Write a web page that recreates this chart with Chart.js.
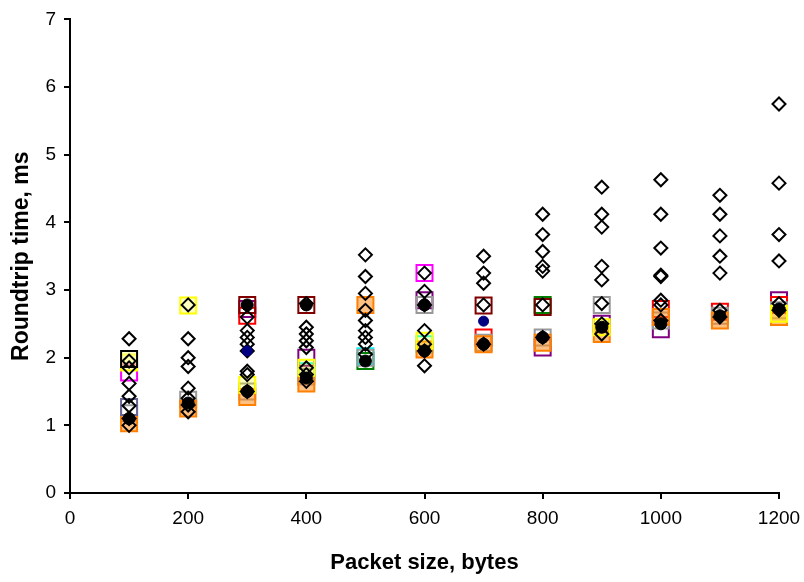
<!DOCTYPE html>
<html>
<head>
<meta charset="utf-8">
<script src="https://cdn.jsdelivr.net/npm/chart.js@4"></script>
<style>
  body { margin: 0; background: #fff; }
  #wrap { width: 804px; height: 582px; }
</style>
</head>
<body>
<div id="wrap"><canvas id="myChart" width="804" height="582"></canvas></div>
<script>
// tamanhos de pacote (eixo x)
const packetSizes = [100, 200, 300, 400, 500, 600, 700, 800, 900, 1000, 1100, 1200];
const xTicks = [0, 200, 400, 600, 800, 1000, 1200];
const yTicks = [0, 1, 2, 3, 4, 5, 6, 7];

// series com losango (contorno preto)
const runA = [2.28, 2.78, 2.6, 2.45, 3.52, 3.25, 3.5, 4.12, 4.52, 4.63, 4.4, 5.75];
const runB = [1.95, 2.28, 2.4, 2.35, 3.2, 2.98, 3.25, 3.82, 4.12, 4.12, 4.12, 4.58];
const runC = [1.85, 2.0, 2.3, 2.25, 2.95, 2.4, 3.1, 3.57, 3.93, 3.62, 3.8, 3.82];
const runD = [1.62, 1.87, 2.2, 2.15, 2.7, 2.2, 2.78, 3.35, 3.35, 3.22, 3.5, 3.43];
const runE = [1.43, 1.55, 2.1, 1.85, 2.55, 1.88, 2.2, 3.28, 3.15, 3.2, 3.25, 2.8];
const runF = [1.29, 1.4, 1.8, 1.75, 2.4, 2.1, null, 2.78, 2.8, 2.85, 2.7, 2.7];
const runG = [1.1, 1.3, 1.75, 1.65, 2.3, 2.78, null, 2.3, 2.5, 2.78, 2.6, null];
const runH = [1.0, 1.2, 1.5, 2.8, 2.2, null, null, null, 2.35, 2.55, null, null];
const runI = [null, null, null, null, 2.05, null, null, null, null, null, null, null];

// pontos preenchidos
const meanRtt = [1.1, 1.33, 1.5, 1.7, 1.95, 2.1, 2.2, 2.3, 2.45, 2.5, 2.62, 2.72];
const highRtt = [null, null, 2.78, 2.78, null, 2.78, null, null, null, null, null, null];
const navyRtt = [null, null, 2.1, null, null, null, 2.54, null, null, null, null, null];

// series com quadrados coloridos
const sqBlack = [1.98, null, null, null, null, null, null, null, null, null, null, null];
const sqYellow = [1.93, 2.77, 1.6, 1.85, null, 2.25, null, null, 2.45, null, null, 2.65];
const sqMagenta = [1.78, null, null, null, null, 3.25, null, null, null, null, null, null];
const sqSlate = [1.27, null, null, null, null, null, null, null, null, null, null, null];
const sqOrange = [1.03, 1.25, 1.42, 1.62, 2.78, 2.12, 2.2, 2.22, 2.35, 2.6, 2.55, 2.6];
const sqGray = [1.18, 1.38, 1.5, 1.72, 2.0, 2.78, 2.22, 2.3, 2.78, 2.55, 2.62, 2.7];
const sqDarkRed = [null, null, 2.78, 2.78, null, null, 2.77, 2.75, null, null, null, null];
const sqRed = [null, null, 2.62, null, null, null, 2.3, null, null, 2.72, 2.68, 2.78];
const sqPurple = [null, null, 2.72, 2.0, null, 2.85, null, 2.15, 2.5, 2.42, null, 2.85];
const sqCyan = [null, null, null, 1.8, 2.02, 2.2, null, null, null, null, null, null];
const sqGreen = [null, null, null, null, 1.95, null, null, 2.78, null, null, null, null];

function pontos(vals) {
    return packetSizes.map((x, i) => ({ x: x, y: vals[i] })).filter(p => p.y !== null);
}

const datasets = [];

[meanRtt, highRtt].forEach(v => datasets.push({
    data: pontos(v), pointStyle: "circle", pointRadius: 6,
    backgroundColor: "#000", borderColor: "#000", borderWidth: 1, order: 0, clip: false
}));
datasets.push({
    data: pontos(navyRtt), pointStyle: "circle", pointRadius: 5,
    backgroundColor: "#000080", borderColor: "#000080", borderWidth: 1, order: 0, clip: false
});

[runA, runB, runC, runD, runE, runF, runG, runH, runI].forEach(v => datasets.push({
    data: pontos(v), pointStyle: "rectRot", pointRadius: 6.5,
    backgroundColor: "rgba(0,0,0,0)", borderColor: "#000", borderWidth: 2, order: 1, clip: false
}));

// [valores, contorno, preenchimento]
const quadrados = [
    [sqBlack, "#000000", "rgba(255,255,153,0.5)"], [sqYellow, "#ffff00", "rgba(255,255,0,0.25)"],
    [sqMagenta, "#ff00ff", "rgba(0,0,0,0)"], [sqSlate, "#666699", "rgba(0,0,0,0)"],
    [sqOrange, "#ff8000", "rgba(255,140,30,0.55)"], [sqGray, "#999999", "rgba(0,0,0,0)"],
    [sqDarkRed, "#800000", "rgba(0,0,0,0)"], [sqRed, "#ff0000", "rgba(0,0,0,0)"],
    [sqPurple, "#800080", "rgba(0,0,0,0)"], [sqCyan, "#00ffff", "rgba(0,0,0,0)"],
    [sqGreen, "#008000", "rgba(0,0,0,0)"]
];
quadrados.forEach(([v, cor, fundo]) => datasets.push({
    data: pontos(v), pointStyle: "rect", pointRadius: 11.3,
    backgroundColor: fundo, borderColor: cor, borderWidth: 2, order: 2, clip: false
}));

Chart.defaults.font.family = "'Liberation Sans', Arial, sans-serif";
Chart.defaults.color = "#000";

const ctx = document.getElementById("myChart").getContext("2d");
new Chart(ctx, {
    type: "scatter",
    data: { datasets: datasets },
    options: {
        responsive: false,
        animation: false,
        layout: { padding: { top: 17, right: 0, left: 0, bottom: 0 } },
        plugins: { legend: { display: false }, tooltip: { enabled: false } },
        scales: {
            x: {
                min: 0, max: 1200,
                afterFit: s => { s.height = 89; s.paddingRight = 25; s.paddingLeft = 0; },
                afterBuildTicks: s => { s.ticks = xTicks.map(v => ({ value: v })); },
                border: { color: "#000", width: 2 },
                grid: { drawOnChartArea: false, drawTicks: true, tickLength: 6, color: "#000", lineWidth: 2 },
                ticks: { font: { size: 19 }, padding: 8, maxRotation: 0, callback: v => String(v) },
                title: { display: true, text: "Packet size, bytes", font: { size: 22, weight: "bold" }, padding: { top: 0, bottom: 6 } }
            },
            y: {
                min: 0, max: 7,
                afterFit: s => { s.width = 70; },
                afterBuildTicks: s => { s.ticks = yTicks.map(v => ({ value: v })); },
                border: { color: "#000", width: 2 },
                grid: { drawOnChartArea: false, drawTicks: true, tickLength: 6, color: "#000", lineWidth: 2 },
                ticks: { font: { size: 19 }, padding: 8, callback: v => String(v) },
                title: { display: true, text: "Roundtrip time, ms", font: { size: 23, weight: "bold" }, padding: { top: 8, bottom: 0 } }
            }
        }
    }
});
</script>
</body>
</html>
